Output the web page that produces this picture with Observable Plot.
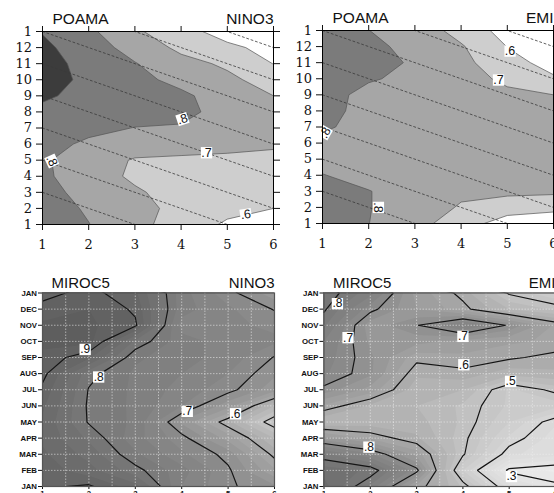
<!DOCTYPE html>
<html><head><meta charset="utf-8">
<script src="https://cdn.jsdelivr.net/npm/d3@7"></script>
<script src="https://cdn.jsdelivr.net/npm/@observablehq/plot@0.6"></script>
<style>
html,body{margin:0;padding:0;background:#fff;overflow:hidden;width:554px;height:493px;}
#wrap{position:relative;width:554px;height:493px;overflow:hidden;background:#fff;}
#wrap svg{position:absolute;}
</style></head><body><div id="wrap"></div>
<script>
// ---- data (rows from top: target month 13 ("1"/JAN) down to 1) ----
const leads = [1, 2, 3, 4, 5, 6];
const monthTicks = [1,2,3,4,5,6,7,8,9,10,11,12,13];
const poamaYLabels = ["1","2","3","4","5","6","7","8","9","10","11","12","1"];
const mirocYLabels = ["JAN","FEB","MAR","APR","MAY","JUN","JUL","AUG","SEP","OCT","NOV","DEC","JAN"];

const poamaNino3 = [
  [0.895, 0.82, 0.716, 0.635, 0.56, 0.52],
  [0.92, 0.85, 0.76, 0.679, 0.62, 0.57],
  [0.935, 0.87, 0.805, 0.73, 0.685, 0.598],
  [0.94, 0.879, 0.83, 0.77, 0.72, 0.66],
  [0.91, 0.88, 0.85, 0.82, 0.75, 0.70],
  [0.885, 0.87, 0.85, 0.83, 0.76, 0.72],
  [0.86, 0.83, 0.797, 0.79, 0.75, 0.73],
  [0.84, 0.78, 0.76, 0.75, 0.74, 0.72],
  [0.81, 0.76, 0.69, 0.68, 0.67, 0.66],
  [0.815, 0.755, 0.68, 0.66, 0.65, 0.645],
  [0.83, 0.77, 0.715, 0.655, 0.64, 0.63],
  [0.84, 0.79, 0.74, 0.665, 0.62, 0.60],
  [0.85, 0.802, 0.74, 0.64, 0.59, 0.57]
];
const poamaEmi = [
  [0.86, 0.801, 0.76, 0.663, 0.563, 0.54],
  [0.87, 0.82, 0.776, 0.71, 0.598, 0.56],
  [0.86, 0.83, 0.79, 0.73, 0.63, 0.57],
  [0.85, 0.81, 0.775, 0.74, 0.68, 0.61],
  [0.84, 0.77, 0.76, 0.745, 0.72, 0.70],
  [0.83, 0.77, 0.755, 0.75, 0.74, 0.73],
  [0.81, 0.775, 0.75, 0.75, 0.745, 0.74],
  [0.78, 0.76, 0.745, 0.745, 0.74, 0.74],
  [0.77, 0.755, 0.74, 0.74, 0.74, 0.735],
  [0.803, 0.77, 0.74, 0.74, 0.735, 0.73],
  [0.82, 0.803, 0.76, 0.72, 0.725, 0.72],
  [0.83, 0.803, 0.76, 0.69, 0.64, 0.62],
  [0.83, 0.801, 0.74, 0.64, 0.56, 0.55]
];
const mirocNino3 = [
  [0.89, 0.91, 0.88, 0.76, 0.71, 0.66],
  [0.91, 0.925, 0.895, 0.76, 0.73, 0.698],
  [0.93, 0.93, 0.905, 0.74, 0.73, 0.72],
  [0.93, 0.935, 0.82, 0.76, 0.74, 0.73],
  [0.92, 0.88, 0.78, 0.76, 0.74, 0.698],
  [0.91, 0.81, 0.77, 0.75, 0.725, 0.68],
  [0.893, 0.798, 0.77, 0.74, 0.71, 0.66],
  [0.88, 0.795, 0.77, 0.725, 0.66, 0.55],
  [0.87, 0.797, 0.77, 0.67, 0.5825, 0.475],
  [0.87, 0.82, 0.76, 0.71, 0.64, 0.55],
  [0.88, 0.84, 0.78, 0.73, 0.69, 0.59],
  [0.89, 0.86, 0.81, 0.76, 0.705, 0.63],
  [0.895, 0.905, 0.86, 0.75, 0.705, 0.68]
];
const mirocEmi = [
  [0.82, 0.76, 0.64, 0.59, 0.495, 0.45],
  [0.805, 0.71, 0.65, 0.61, 0.55, 0.52],
  [0.78, 0.66, 0.698, 0.76, 0.695, 0.62],
  [0.75, 0.67, 0.66, 0.64, 0.63, 0.62],
  [0.74, 0.68, 0.61, 0.62, 0.605, 0.59],
  [0.73, 0.68, 0.58, 0.59, 0.56, 0.57],
  [0.69, 0.64, 0.56, 0.55, 0.47, 0.51],
  [0.62, 0.57, 0.55, 0.52, 0.47, 0.46],
  [0.55, 0.56, 0.56, 0.52, 0.45, 0.38],
  [0.66, 0.62, 0.58, 0.51, 0.42, 0.36],
  [0.78, 0.73, 0.64, 0.505, 0.38, 0.36],
  [0.84, 0.82, 0.71, 0.45, 0.29, 0.27],
  [0.86, 0.77, 0.62, 0.52, 0.36, 0.31]
];

// contour labels (lead, month, text, rotation)
const labelsPN = [
  {x: 1.2, y: 4.95, t: ".8", r: 65},
  {x: 4.03, y: 7.55, t: ".8", r: -18},
  {x: 4.55, y: 5.46, t: ".7", r: 0},
  {x: 5.4, y: 1.62, t: ".6", r: -8}
];
const labelsPE = [
  {x: 5.06, y: 11.72, t: ".6", r: 0},
  {x: 4.81, y: 9.92, t: ".7", r: 0},
  {x: 1.06, y: 6.65, t: ".8", r: -60},
  {x: 2.21, y: 2.0, t: ".8", r: 90}
];
const labelsMN = [
  {x: 1.92, y: 9.5, t: ".9"},
  {x: 2.21, y: 7.79, t: ".8"},
  {x: 4.12, y: 5.66, t: ".7"},
  {x: 5.16, y: 5.51, t: ".6"}
];
const labelsME = [
  {x: 1.29, y: 12.34, t: ".8"},
  {x: 1.52, y: 10.23, t: ".7"},
  {x: 4.0, y: 10.31, t: ".7"},
  {x: 4.02, y: 8.55, t: ".6"},
  {x: 5.03, y: 7.52, t: ".5"},
  {x: 1.97, y: 3.44, t: ".8"},
  {x: 5.05, y: 1.62, t: ".3"}
];
const diagStarts = [3, 5, 7, 9, 11, 13, 15, 17];

const topLevels = [0.6, 0.7, 0.8, 0.9];
const topFills = ["#cecece", "#a6a6a6", "#7b7b7b", "#3c3c3c"];
const lineLevels = [0.3, 0.4, 0.5, 0.6, 0.7, 0.8, 0.9];
const shadeDomain = [0.2, 0.3, 0.4, 0.5, 0.6, 0.7, 0.8, 0.9, 1.0];
const shadeRange = ["#f2f2f2", "#e6e6e6", "#d7d7d7", "#c4c4c4", "#a9a9a9", "#8d8d8d", "#787878", "#646464", "#555555"];

// ---- drawing ----
const wrap = document.getElementById("wrap");
const gridOpts = {width: 6, height: 13, x1: 0.5, x2: 6.5, y1: 13.5, y2: 0.5};
const diagData = diagStarts.flatMap(c => [{c, x: 1, y: c}, {c, x: 6, y: c - 5}]);

function place(svg, left, top) {
  svg.style.left = left + "px";
  svg.style.top = top + "px";
  wrap.appendChild(svg);
}

function topPanel(grid, labels, title, region, g) {
  const serif = {fontFamily: "DejaVu Serif", fontSize: 13, fill: "#111"};
  return Plot.plot({
    width: g.w, height: g.h,
    marginLeft: g.ml, marginRight: g.mr, marginTop: g.mt, marginBottom: g.mb,
    style: {background: "transparent", overflow: "visible", maxWidth: "none", color: "#111"},
    x: {domain: [1, 6], label: null},
    y: {domain: [1, 13], label: null},
    color: {type: "threshold", domain: [0.65, 0.75, 0.85], range: topFills},
    marks: [
      Plot.frame({fill: "white", stroke: null}),
      Plot.contour(grid.flat(), {...gridOpts, thresholds: topLevels, fill: Plot.identity, stroke: "#555", strokeWidth: 0.7, clip: true}),
      Plot.line(diagData, {x: "x", y: "y", z: "c", stroke: "#3a3a3a", strokeWidth: 0.8, strokeDasharray: "2,2.6", clip: true}),
      Plot.dot(labels, {x: "x", y: "y", symbol: "square", r: 6.4, fill: "white", stroke: null, rotate: "r"}),
      Plot.text(labels, {x: "x", y: "y", text: "t", rotate: "r", fontFamily: "Liberation Sans", fontSize: 12.5, fill: "#111"}),
      Plot.axisX({anchor: "bottom", ticks: leads, tickSize: 6, tickFormat: () => "", label: null}),
      Plot.axisX({anchor: "top", ticks: leads, tickSize: 6, tickFormat: () => "", label: null}),
      Plot.axisY({anchor: "left", ticks: monthTicks, tickSize: 6, tickFormat: () => "", label: null}),
      Plot.axisY({anchor: "right", ticks: monthTicks, tickSize: 6, tickFormat: () => "", label: null}),
      Plot.text(leads, {x: d => d, frameAnchor: "bottom", lineAnchor: "top", dy: 15, text: d => String(d), ...serif}),
      Plot.text(monthTicks, {y: d => d, frameAnchor: "left", textAnchor: "end", dx: -10.5, text: d => poamaYLabels[d - 1], ...serif}),
      Plot.frame({stroke: "black", strokeWidth: 1}),
      Plot.text([title], {frameAnchor: "top-left", textAnchor: "start", lineAnchor: "bottom", dx: 10, dy: -8, fontFamily: "Liberation Sans", fontSize: 15.5, fill: "#111"}),
      Plot.text([region], {frameAnchor: "top-right", textAnchor: "end", lineAnchor: "bottom", dx: 0, dy: -8, fontFamily: "Liberation Sans", fontSize: 15.5, fill: "#111"})
    ]
  });
}

function bottomPanel(grid, labels, title, region, g) {
  const gx = d3.range(1.5, 6, 0.5);
  const gy = monthTicks.slice(1, 12);
  const bold = {fontFamily: "Liberation Sans", fontSize: 7.8, fontWeight: "bold", fill: "#111"};
  return Plot.plot({
    width: g.w, height: g.h,
    marginLeft: g.ml, marginRight: g.mr, marginTop: g.mt, marginBottom: g.mb,
    style: {background: "transparent", overflow: "visible", maxWidth: "none", color: "#111"},
    x: {domain: [1, 6], label: null},
    y: {domain: [1, 13], label: null},
    color: {type: "linear", domain: shadeDomain.map(d => d - 0.0125), range: shadeRange, clamp: true},
    marks: [
      Plot.frame({fill: "#f4f4f4", stroke: null}),
      Plot.contour(grid.flat(), {...gridOpts, thresholds: d3.range(0.2, 1.0001, 0.025), fill: Plot.identity, stroke: null, clip: true}),
      Plot.ruleX(gx, {stroke: "#eeeeee", strokeOpacity: 0.7, strokeWidth: 0.8, strokeDasharray: "1.5,1.5"}),
      Plot.ruleY(gy, {stroke: "#eeeeee", strokeOpacity: 0.7, strokeWidth: 0.8, strokeDasharray: "1.5,1.5"}),
      Plot.contour(grid.flat(), {...gridOpts, value: Plot.identity, thresholds: lineLevels, fill: "none", stroke: "#151515", strokeWidth: 1.2, clip: true}),
      Plot.dot(labels, {x: "x", y: "y", symbol: "square", r: 6.4, fill: "white", stroke: null}),
      Plot.text(labels, {x: "x", y: "y", text: "t", fontFamily: "Liberation Sans", fontSize: 12, fill: "#111"}),
      Plot.axisX({anchor: "bottom", ticks: leads, tickSize: 3, tickFormat: () => "", label: null}),
      Plot.axisY({anchor: "left", ticks: monthTicks, tickSize: 4, tickFormat: () => "", label: null}),
      Plot.text(leads, {x: d => d, frameAnchor: "bottom", lineAnchor: "top", dy: 4, text: d => String(d), ...bold}),
      Plot.text(monthTicks, {y: d => d, frameAnchor: "left", textAnchor: "end", dx: -5.5, text: d => mirocYLabels[d - 1], ...bold}),
      Plot.frame({stroke: "#555", strokeWidth: 1.2}),
      Plot.text([title], {frameAnchor: "top-left", textAnchor: "start", lineAnchor: "bottom", dx: 9, dy: -5, fontFamily: "Liberation Sans", fontSize: 15, fill: "#111"}),
      Plot.text([region], {frameAnchor: "top-right", textAnchor: "end", lineAnchor: "bottom", dx: 0, dy: -5, fontFamily: "Liberation Sans", fontSize: 15, fill: "#111"})
    ]
  });
}

place(topPanel(poamaNino3, labelsPN, "POAMA", "NINO3", {w: 300, h: 260, ml: 42, mr: 27, mt: 31, mb: 36}), 0, 0);
place(topPanel(poamaEmi, labelsPE, "POAMA", "EMI", {w: 300, h: 260, ml: 45, mr: 24, mt: 30, mb: 37}), 277, 0);
place(bottomPanel(mirocNino3, labelsMN, "MIROC5", "NINO3", {w: 300, h: 243, ml: 42, mr: 26, mt: 42.5, mb: 7}), 0, 250);
place(bottomPanel(mirocEmi, labelsME, "MIROC5", "EMI", {w: 300, h: 243, ml: 46.5, mr: 22, mt: 42.5, mb: 7}), 277, 250);
</script>
</body></html>
